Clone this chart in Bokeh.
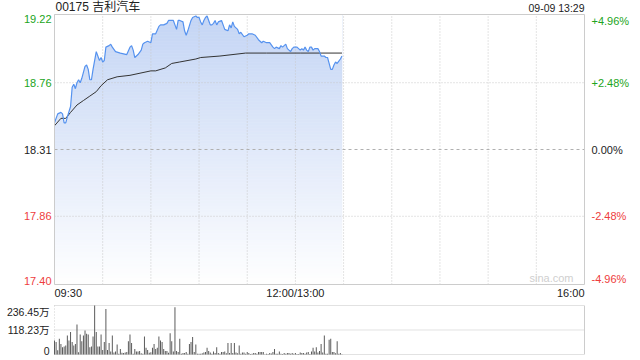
from bokeh.plotting import figure
from bokeh.models import Range1d, Label
from bokeh.embed import file_html
from bokeh.resources import INLINE

# ---------------- data ----------------
title = "00175 吉利汽车"
stamp = "09-09 13:29"
prev_close = 18.31
price_ticks = [19.22, 18.76, 18.31, 17.86, 17.40]
pct_ticks = ["+4.96%", "+2.48%", "0.00%", "-2.48%", "-4.96%"]
time_labels = ["09:30", "12:00/13:00", "16:00"]
time_label_at = ["09:30", "12:00", "16:00"]
grid_times = ["10:00", "10:30", "11:00", "11:30", "12:00", "13:30", "14:00", "14:30", "15:00", "15:30"]
vol_ticks = [236.45, 118.23, 0]
vol_tick_labels = ["236.45万", "118.23万", "0"]

price_times = [
    "09:30", "09:32", "09:34", "09:35", "09:36", "09:37", "09:38", "09:40", "09:41", "09:42",
    "09:43", "09:44", "09:45", "09:46", "09:47", "09:49", "09:50", "09:51", "09:52", "09:53",
    "09:54", "09:56", "09:58", "09:59", "10:00", "10:01", "10:02", "10:04", "10:05", "10:06",
    "10:08", "10:11", "10:15", "10:17", "10:18", "10:19", "10:20", "10:22", "10:24", "10:25",
    "10:26", "10:28", "10:30", "10:31", "10:33", "10:35", "10:36", "10:38", "10:40", "10:41",
    "10:42", "10:44", "10:45", "10:46", "10:47", "10:48", "10:50", "10:51", "10:52", "10:53",
    "10:55", "10:56", "10:58", "10:59", "11:00", "11:01", "11:02", "11:03", "11:04", "11:05",
    "11:06", "11:07", "11:08", "11:09", "11:10", "11:11", "11:12", "11:14", "11:15", "11:16",
    "11:18", "11:19", "11:20", "11:21", "11:22", "11:24", "11:25", "11:26", "11:28", "11:30",
    "11:31", "11:33", "11:35", "11:37", "11:39", "11:40", "11:42", "11:44", "11:46", "11:47",
    "11:48", "11:50", "11:51", "11:52", "11:54", "11:55", "11:57", "11:58", "11:59", "13:01",
    "13:03", "13:04", "13:05", "13:06", "13:07", "13:08", "13:09", "13:10", "13:11", "13:12",
    "13:14", "13:15", "13:16", "13:17", "13:18", "13:19", "13:20", "13:21", "13:22", "13:23",
    "13:24", "13:25", "13:26", "13:28", "13:29",
]
prices = [
    18.49, 18.55, 18.56, 18.55, 18.49, 18.49, 18.53, 18.60, 18.73, 18.75,
    18.72, 18.76, 18.78, 18.76, 18.79, 18.87, 18.88, 18.85, 18.78, 18.78,
    18.85, 18.97, 18.91, 18.93, 18.90, 18.91, 19.00, 19.01, 19.02, 19.00,
    18.97, 18.96, 18.95, 19.00, 19.01, 18.98, 18.93, 18.95, 18.98, 19.02,
    19.03, 19.04, 19.03, 19.09, 19.09, 19.14, 19.15, 19.15, 19.16, 19.18,
    19.18, 19.18, 19.15, 19.12, 19.18, 19.18, 19.17, 19.11, 19.08, 19.11,
    19.18, 19.20, 19.21, 19.20, 19.20, 19.17, 19.15, 19.18, 19.20, 19.21,
    19.18, 19.15, 19.15, 19.16, 19.18, 19.15, 19.17, 19.18, 19.15, 19.12,
    19.11, 19.15, 19.13, 19.17, 19.14, 19.12, 19.09, 19.10, 19.07, 19.08,
    19.09, 19.09, 19.08, 19.05, 19.03, 19.04, 19.03, 19.03, 19.00, 18.99,
    19.00, 18.99, 19.01, 19.00, 19.02, 18.99, 18.97, 18.99, 19.00, 19.00,
    18.98, 18.99, 18.98, 19.00, 18.98, 18.97, 19.00, 19.00, 18.98, 18.99,
    18.99, 18.97, 18.94, 18.94, 18.94, 18.93, 18.93, 18.89, 18.85, 18.85,
    18.88, 18.90, 18.89, 18.92, 18.94,
]

avg_times = ["09:30", "09:34", "09:37", "09:40", "09:44", "09:48", "09:52", "09:56", "09:59",
             "10:03", "10:09", "10:17", "10:30", "10:33", "10:39", "10:43", "10:48", "10:58",
             "11:01", "11:13", "11:29", "11:42", "13:03", "13:29"]
avg_prices = [18.47, 18.52, 18.52, 18.56, 18.61, 18.64, 18.67, 18.70, 18.74,
              18.78, 18.80, 18.81, 18.84, 18.84, 18.86, 18.89, 18.90, 18.92,
              18.93, 18.94, 18.96, 18.96, 18.96, 18.96]

# per-minute volume from 09:30 (unit: 万 shares)
volumes = [
    67, 60, 20, 76, 51, 35, 39, 43, 92, 67, 108, 60, 43, 51, 145, 11, 96, 64, 92, 116,
    100, 96, 35, 39, 87, 236.45, 108, 39, 39, 96, 22, 60, 220, 22, 55, 14, 92, 10, 14, 48,
    4, 27, 8, 7, 10, 12, 64, 96, 55, 4, 27, 14, 14, 17, 6, 4, 87, 32, 22, 8,
    11, 32, 51, 27, 32, 87, 67, 60, 27, 17, 17, 8, 103, 64, 14, 228, 17, 12, 76, 4,
    7, 7, 12, 4, 51, 60, 84, 12, 48, 4, 4, 4, 6, 10, 12, 32, 17, 10, 4, 14,
    7, 35, 7, 4, 12, 12, 14, 6, 55, 7, 55, 7, 55, 10, 6, 43, 4, 10, 10, 4,
    12, 7, 2, 4, 7, 7, 4, 12, 12, 12, 12, 1, 4, 2, 7, 5, 12, 27, 4, 4,
    14, 4, 2, 7, 4, 7, 7, 4, 7, 4, 7, 3, 2, 10, 7, 7, 4, 10, 12, 2,
    14, 32, 14, 35, 10, 17, 51, 10, 92, 4, 4, 71, 76, 12, 12, 6, 64, 4, 7, 1,
]


def minute_of(t):
    h, m = map(int, t.split(":"))
    tot = h * 60 + m
    if tot <= 12 * 60:
        return tot - (9 * 60 + 30)
    return 150 + tot - 13 * 60


px = [minute_of(t) for t in price_times]
ax = [minute_of(t) for t in avg_times]
vx = list(range(len(volumes)))

FONT = "Liberation Sans, Noto Sans CJK SC"
GREEN = "#21a421"
RED = "#ee3d3d"
DARK = "#222222"
LO, HI = price_ticks[-1], price_ticks[0]
VMAX = vol_ticks[0]
XMAX = minute_of("16:00")

# ---------------- layout geometry (pixels) ----------------
W, H = 640, 360
L, R = 54, 584          # panel left / right
T1, B1 = 14, 284        # price panel top / bottom
T2, B2 = 305, 354       # volume panel top / bottom
kx = (R - L) / XMAX
ky = (B1 - T1) / (HI - LO)
kv = (B2 - T2) / VMAX

p = figure(width=W, height=H, output_backend="svg", toolbar_location=None,
           x_range=Range1d(-L / kx, (W - L) / kx),
           y_range=Range1d(LO - (H - B1) / ky, HI + T1 / ky),
           x_axis_location=None, y_axis_location=None, min_border=0)
p.extra_y_ranges = {"vol": Range1d(0 - (H - B2) / kv, VMAX + T2 / kv)}
p.grid.visible = False
p.outline_line_color = None
p.background_fill_color = "white"
p.border_fill_color = "white"

# ---- vertical gradient fill under the price line ----
n = 90
tops, bots, cols = [], [], []
c_top = (196, 213, 245)
c_bot = (255, 255, 255)
for i in range(n):
    f = (i + 0.5) / n
    bots.append(LO + (HI - LO) * i / n)
    tops.append(LO + (HI - LO) * (i + 1) / n)
    cols.append("#%02x%02x%02x" % tuple(int(c_bot[j] + (c_top[j] - c_bot[j]) * f) for j in range(3)))
x_end = px[-1]
p.quad(left=0, right=x_end, bottom=bots, top=tops, fill_color=cols, line_color=cols, line_width=0.6)
p.varea(x=px, y1=prices, y2=[HI] * len(px), fill_color="white")

# ---- grid lines (price panel) ----
gx = [minute_of(t) for t in grid_times]
p.segment(x0=gx, y0=[LO] * len(gx), x1=gx, y1=[HI] * len(gx),
          line_color="#c8c8c8", line_dash="1 2", line_width=1)
for v in price_ticks[1:-1]:
    if v == prev_close:
        p.segment(x0=[0], y0=[v], x1=[XMAX], y1=[v], line_color="#b0b0b0", line_dash="3 3", line_width=1)
    else:
        p.segment(x0=[0], y0=[v], x1=[XMAX], y1=[v], line_color="#c8c8c8", line_dash="1 2", line_width=1)

p.line(ax, avg_prices, line_color="#333333", line_width=1)
p.line(px, prices, line_color="#5592ef", line_width=1.2)

# price panel border
p.segment(x0=[0, 0, 0, XMAX], y0=[LO, HI, LO, LO], x1=[XMAX, XMAX, 0, XMAX], y1=[LO, HI, HI, HI],
          line_color="#cccccc", line_width=1)

# ---- price / percent labels ----
for i, v in enumerate(price_ticks):
    col = GREEN if v > prev_close else (DARK if v == prev_close else RED)
    base = "top" if i == 0 else ("bottom" if i == len(price_ticks) - 1 else "middle")
    p.add_layout(Label(x=0, y=v, x_offset=-3, text="%.2f" % v, text_align="right",
                       text_baseline=base, text_color=col, text_font_size="11px", text_font=FONT))
    p.add_layout(Label(x=XMAX, y=v, x_offset=7, text=pct_ticks[i], text_align="left",
                       text_baseline=base, text_color=col, text_font_size="11px", text_font=FONT))

aligns = ["left", "center", "right"]
for lab, at, al in zip(time_labels, time_label_at, aligns):
    p.add_layout(Label(x=minute_of(at), y=LO, y_offset=-2, text=lab, text_align=al,
                       text_baseline="top", text_color=DARK, text_font_size="11px", text_font=FONT))

p.add_layout(Label(x=0, y=HI, x_offset=1, y_offset=1, text=title, text_align="left",
                   text_baseline="bottom", text_color=DARK, text_font_size="12px", text_font=FONT))
p.add_layout(Label(x=XMAX, y=HI, y_offset=1, text=stamp, text_align="right",
                   text_baseline="bottom", text_color=DARK, text_font_size="10.5px", text_font=FONT))
p.add_layout(Label(x=XMAX, y=LO, x_offset=-11, y_offset=1, text="sina.com", text_align="right",
                   text_baseline="bottom", text_color="#cfcfcf", text_font_size="11px", text_font=FONT))

# ---------------- volume panel ----------------
p.segment(x0=[0] * 3, y0=vol_ticks, x1=[XMAX] * 3, y1=vol_ticks, y_range_name="vol",
          line_color="#c4c4c4", line_dash="1 1", line_width=1)
p.segment(x0=[0], y0=[0], x1=[0], y1=[VMAX], y_range_name="vol",
          line_color="#d0d0d0", line_dash="1 2", line_width=1)
p.segment(x0=[XMAX], y0=[0], x1=[XMAX], y1=[VMAX], y_range_name="vol",
          line_color="#cccccc", line_width=1)
p.vbar(x=vx, top=volumes, width=0.6, y_range_name="vol", fill_color="#555555", line_color=None)

for i, (v, lab) in enumerate(zip(vol_ticks, vol_tick_labels)):
    base = "top" if i == 0 else ("bottom" if i == len(vol_ticks) - 1 else "middle")
    p.add_layout(Label(x=0, y=v, y_range_name="vol", x_offset=-5, text=lab, text_align="right",
                       text_baseline=base, text_color=DARK, text_font_size="10.5px", text_font=FONT))

open("out.html", "w").write(file_html(p, INLINE))
